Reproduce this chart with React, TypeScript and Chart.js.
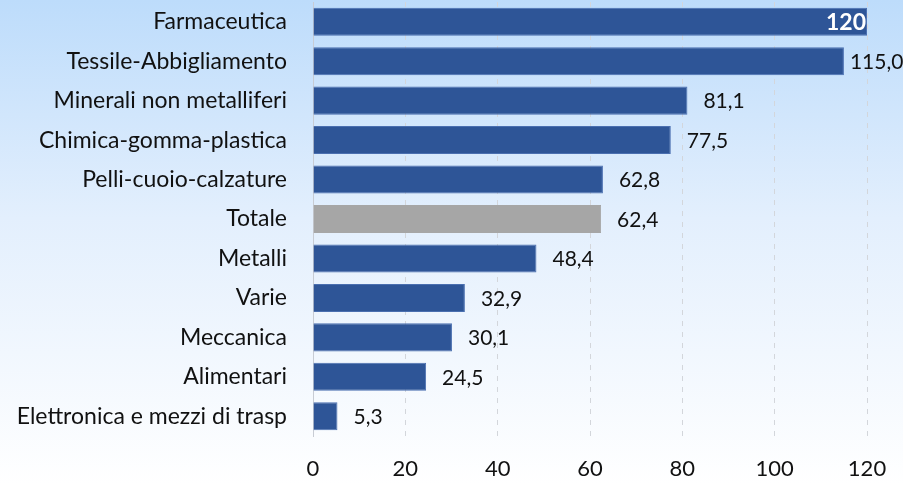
import React, { useEffect, useRef } from "react";
import { Chart, registerables } from "chart.js";

Chart.register(...registerables);

const categories = [
  "Farmaceutica",
  "Tessile-Abbigliamento",
  "Minerali non metalliferi",
  "Chimica-gomma-plastica",
  "Pelli-cuoio-calzature",
  "Totale",
  "Metalli",
  "Varie",
  "Meccanica",
  "Alimentari",
  "Elettronica e mezzi di trasp",
];
const values = [120, 115.0, 81.1, 77.5, 62.8, 62.4, 48.4, 32.9, 30.1, 24.5, 5.3];
const valueLabels = ["120", "115,0", "81,1", "77,5", "62,8", "62,4", "48,4", "32,9", "30,1", "24,5", "5,3"];
const xTicks = [0, 20, 40, 60, 80, 100, 120];

const FONT = "Lato, 'Open Sans', sans-serif";
const BLUE = "#2E5597";
const GREY = "#A6A6A6";

const labelPlugin = {
  id: "valueLabels",
  afterDatasetsDraw(chart: any) {
    const ctx = chart.ctx;
    const meta = chart.getDatasetMeta(0);
    ctx.save();
    ctx.textBaseline = "middle";
    meta.data.forEach((bar: any, i: number) => {
      const text = valueLabels[i];
      if (i === 0) {
        ctx.font = `bold 23px ${FONT}`;
        ctx.fillStyle = "#FFFFFF";
        ctx.textAlign = "right";
        ctx.fillText(text, bar.x - 1, bar.y + 1);
      } else {
        ctx.font = `21px ${FONT}`;
        ctx.fillStyle = "#111111";
        ctx.textAlign = "left";
        const w = ctx.measureText(text).width;
        const x = Math.max(bar.x + 6, Math.min(bar.x + 16, chart.width - 1 - w));
        ctx.fillText(text, x, bar.y + 1);
      }
    });
    ctx.restore();
  },
};

export default function App() {
  const ref = useRef<HTMLCanvasElement | null>(null);
  useEffect(() => {
    if (!ref.current) return;
    const chart = new Chart(ref.current, {
      type: "bar",
      data: {
        labels: categories,
        datasets: [
          {
            data: values,
            backgroundColor: categories.map((c) => (c === "Totale" ? GREY : BLUE)),
            borderColor: categories.map((c) => (c === "Totale" ? GREY : "#4A6FB0")),
            borderWidth: 1,
            barPercentage: 0.9,
            categoryPercentage: 0.79,
          },
        ],
      },
      options: {
        indexAxis: "y",
        animation: false,
        responsive: false,
        maintainAspectRatio: false,
        layout: { padding: { top: 2, right: 36, left: 0, bottom: 0 } },
        plugins: { legend: { display: false }, tooltip: { enabled: false } },
        scales: {
          x: {
            min: 0,
            max: 120,
            afterBuildTicks: (s: any) => {
              s.ticks = xTicks.map((v) => ({ value: v }));
            },
            afterFit: (s: any) => {
              s.height = 49;
              s.paddingLeft = 0;
              s.paddingRight = 0;
            },
            grid: {
              color: "#D3D6DB",
              lineWidth: 1,
              drawTicks: false,
            },
            border: { display: false, dash: [5, 6] },
            ticks: {
              color: "#111111",
              font: { family: FONT, size: 22 },
              padding: 20,
            },
          },
          y: {
            afterFit: (s: any) => {
              s.width = 313;
              s.paddingTop = 0;
              s.paddingBottom = 0;
            },
            grid: { display: false, drawTicks: false },
            border: { display: true, color: "#C8CCD4", width: 1 },
            ticks: {
              color: "#111111",
              font: { family: FONT, size: 23 },
              padding: 26,
            },
          },
        },
      },
      plugins: [labelPlugin],
    });
    return () => chart.destroy();
  }, []);
  return (
    <div
      style={{
        position: "fixed",
        left: 0,
        top: 0,
        width: 903,
        height: 485,
        background: "linear-gradient(to bottom, #BDDCFB 0%, #E3EFFD 45%, #FFFFFF 100%)",
      }}
    >
      <canvas ref={ref} width={903} height={485} style={{ display: "block" }} />
    </div>
  );
}
